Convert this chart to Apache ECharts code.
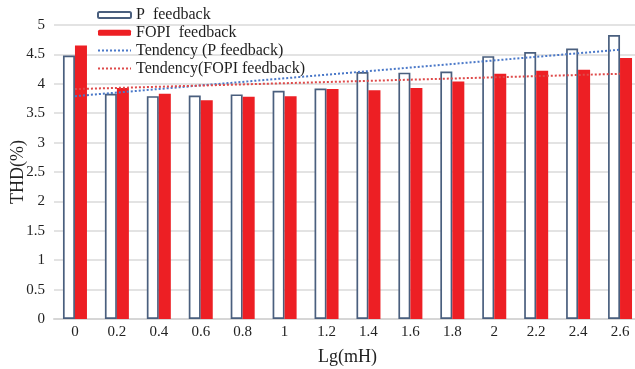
<!DOCTYPE html>
<html>
<head>
<meta charset="utf-8">
<script src="https://cdn.jsdelivr.net/npm/echarts@6/dist/echarts.min.js"></script>
<style>
  html, body { margin: 0; padding: 0; background: #fff; }
  #chart { width: 635px; height: 369px; }
</style>
</head>
<body>
<div id="chart"></div>
<script>
// Inductance (log scale) categories on the x axis
const categories = ['0', '0.2', '0.4', '0.6', '0.8', '1', '1.2', '1.4', '1.6', '1.8', '2', '2.2', '2.4', '2.6'];

// THD (%) for each control scheme
const pFeedback    = [4.48, 3.83, 3.79, 3.80, 3.82, 3.88, 3.92, 4.20, 4.19, 4.21, 4.47, 4.54, 4.60, 4.83];
const fopiFeedback = [4.65, 3.93, 3.83, 3.72, 3.78, 3.79, 3.91, 3.89, 3.93, 4.04, 4.17, 4.22, 4.24, 4.44];

// Linear trend lines: values at the first and last category
const trendP    = [3.79, 4.58];
const trendFOPI = [3.91, 4.17];

// Y axis range and step
const yMin = 0, yMax = 5, yStep = 0.5;

const serif = '"Liberation Serif", "DejaVu Serif", serif';
const last = categories.length - 1;

const chart = echarts.init(document.getElementById('chart'), null, { renderer: 'canvas' });

chart.setOption({
  animation: false,
  backgroundColor: '#ffffff',
  textStyle: { fontFamily: serif },
  grid: { left: 54, top: 25, width: 587, height: 294, containLabel: false, outerBoundsMode: 'none' },
  legend: {
    orient: 'vertical',
    left: 97,
    top: 7,
    padding: 0,
    itemWidth: 33,
    itemHeight: 6,
    itemGap: 1.8,
    textStyle: { fontFamily: serif, fontSize: 16, color: '#1e1e1e', lineHeight: 16 },
    data: [
      { name: 'P  feedback' },
      { name: 'FOPI  feedback' },
      { name: 'Tendency (P feedback)', itemStyle: { opacity: 0 } },
      { name: 'Tendency(FOPI feedback)', itemStyle: { opacity: 0 } }
    ]
  },
  xAxis: {
    type: 'category',
    data: categories,
    name: 'Lg(mH)',
    nameLocation: 'middle',
    nameGap: 29,
    nameMoveOverlap: false,
    nameTextStyle: { fontFamily: serif, fontSize: 18, color: '#222', verticalAlign: 'top' },
    axisLine: { lineStyle: { color: '#d6d6d6', width: 2 } },
    axisTick: { show: false },
    axisLabel: { fontFamily: serif, fontSize: 15, color: '#222', margin: 6 },
    splitLine: { show: false }
  },
  yAxis: {
    type: 'value',
    min: yMin,
    max: yMax,
    interval: yStep,
    name: 'THD(%)',
    nameLocation: 'middle',
    nameGap: 27,
    nameMoveOverlap: false,
    nameTextStyle: { fontFamily: serif, fontSize: 18, color: '#222' },
    axisLine: { show: false },
    axisTick: { show: false },
    axisLabel: { fontFamily: serif, fontSize: 15, color: '#222', margin: 9 },
    splitLine: { lineStyle: { color: '#dadada', width: 1.5 } }
  },
  series: [
    {
      name: 'P  feedback',
      type: 'bar',
      data: pFeedback,
      barWidth: 12,
      barGap: '0%',
      itemStyle: { color: '#ffffff', borderColor: '#4a5f7e', borderWidth: 1.7 },
      z: 2
    },
    {
      name: 'FOPI  feedback',
      type: 'bar',
      data: fopiFeedback,
      barWidth: 12,
      barGap: '0%',
      itemStyle: { color: '#ed1f24' },
      z: 2
    },
    {
      name: 'Tendency (P feedback)',
      type: 'line',
      data: [[categories[0], trendP[0]], [categories[last], trendP[1]]],
      symbol: 'none',
      lineStyle: { color: '#4a78c8', width: 2, type: [2, 2] },
      itemStyle: { color: '#4a78c8' },
      z: 5
    },
    {
      name: 'Tendency(FOPI feedback)',
      type: 'line',
      data: [[categories[0], trendFOPI[0]], [categories[last], trendFOPI[1]]],
      symbol: 'none',
      lineStyle: { color: '#de4a4a', width: 2, type: [2, 2] },
      itemStyle: { color: '#de4a4a' },
      z: 5
    }
  ]
});
</script>
</body>
</html>
